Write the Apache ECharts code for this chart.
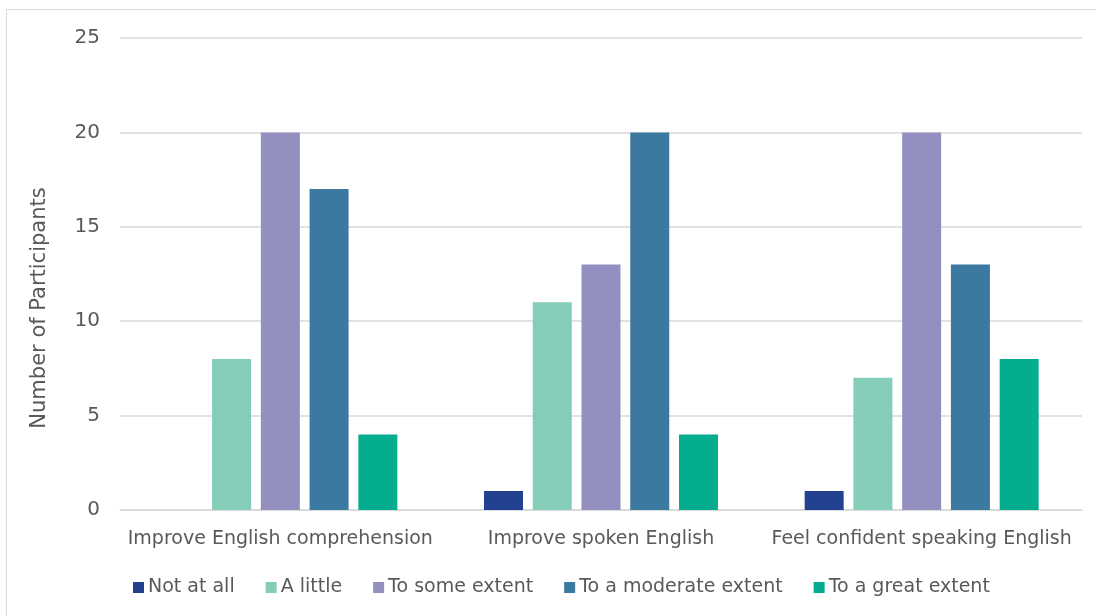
<!DOCTYPE html>
<html>
<head>
<meta charset="utf-8">
<script src="https://cdn.jsdelivr.net/npm/echarts@6/dist/echarts.min.js"></script>
<style>
  html, body { margin: 0; padding: 0; background: #ffffff; }
  #frame { position: absolute; left: 6px; top: 9px; width: 1100px; height: 620px; border: 1px solid #d9d9d9; box-sizing: border-box; }
  #chart { position: absolute; left: 0; top: 0; width: 1096px; height: 616px; }
</style>
</head>
<body>
<div id="frame"></div>
<div id="chart"></div>
<script>
// Survey outcomes by response level
const categories = ['Improve English comprehension', 'Improve spoken English', 'Feel confident speaking English'];
const seriesNames = ['Not at all', 'A little', 'To some extent', 'To a moderate extent', 'To a great extent'];
const notAtAll = [0, 1, 1];
const aLittle = [8, 11, 7];
const toSomeExtent = [20, 13, 20];
const toModerateExtent = [17, 20, 13];
const toGreatExtent = [4, 4, 8];
const yTicks = { min: 0, max: 25, interval: 5 };
const yTitle = 'Number of Participants';

const colors = ['#22418f', '#85cdb8', '#938fc0', '#3c79a0', '#05ad8f'];
const values = [notAtAll, aLittle, toSomeExtent, toModerateExtent, toGreatExtent];
const textColor = '#595959';
const font = "'DejaVu Sans', 'Liberation Sans', sans-serif";

const chart = echarts.init(document.getElementById('chart'), null, { renderer: 'canvas' });
chart.setOption({
  animation: false,
  color: colors,
  grid: { left: 120, right: 14, top: 38, bottom: 106, containLabel: false },
  legend: {
    top: 573,
    left: 128,
    itemWidth: 11,
    itemHeight: 11,
    itemGap: 31,
    itemStyle: { borderWidth: 0 },
    icon: 'rect',
    textStyle: { color: textColor, fontSize: 19, fontFamily: font, padding: [0, 0, 0, -1] },
    data: seriesNames
  },
  graphic: [{
    type: 'text',
    left: 29,
    top: 'middle',
    rotation: Math.PI / 2,
    style: { text: yTitle, fill: textColor, fontSize: 21, fontFamily: font }
  }],
  xAxis: {
    type: 'category',
    data: categories,
    axisLine: { lineStyle: { color: '#d9d9d9', width: 1.5 } },
    axisTick: { show: false },
    axisLabel: { color: textColor, fontSize: 19, fontFamily: font, margin: 20, interval: 0 }
  },
  yAxis: {
    type: 'value',
    min: yTicks.min,
    max: yTicks.max,
    interval: yTicks.interval,
    axisLine: { show: false },
    axisTick: { show: false },
    axisLabel: { color: textColor, fontSize: 20, fontFamily: font, margin: 20 },
    splitLine: { lineStyle: { color: '#d9d9d9', width: 1.5 } }
  },
  series: seriesNames.map((name, i) => ({
    name: name,
    type: 'bar',
    data: values[i],
    barWidth: 39,
    barGap: '25%',
    itemStyle: { color: colors[i] }
  }))
});
</script>
</body>
</html>
